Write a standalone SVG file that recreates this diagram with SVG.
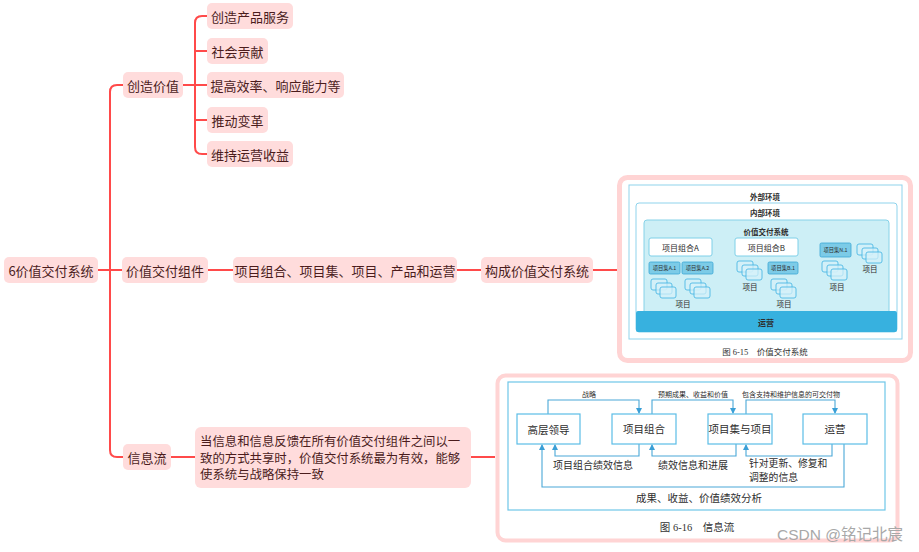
<svg xmlns="http://www.w3.org/2000/svg" width="919" height="552" viewBox="0 0 919 552">
<style>
.n{fill:#ffdcdc;}
.t{font-family:"Noto Sans CJK SC","Liberation Sans",sans-serif;font-size:13px;fill:#4b1c1c;text-anchor:middle;dominant-baseline:central;}
.tl{font-family:"Noto Sans CJK SC","Liberation Sans",sans-serif;font-size:12.4px;fill:#4b1c1c;dominant-baseline:central;}
.mm{fill:none;stroke:#ff4a4a;stroke-width:2;}
.fr{fill:#fff;stroke:#ffd4d4;stroke-width:5;}
.bf{fill:#fff;stroke:#8fd3ec;stroke-width:1;}
.ft{font-family:"Noto Sans CJK SC","Liberation Sans",sans-serif;fill:#2d2d2d;text-anchor:middle;dominant-baseline:central;}
.fs{font-family:"Noto Sans CJK SC","Liberation Sans",sans-serif;fill:#2d2d2d;dominant-baseline:central;}
.cap{font-family:"Liberation Serif","Noto Sans CJK SC",serif;fill:#333;text-anchor:middle;dominant-baseline:central;}
.pj{fill:#7ccbe7;stroke:#3aa7d6;stroke-width:0.8;}
.st{fill:#d6f1f9;fill-opacity:0.7;stroke:#4db8e4;stroke-width:0.9;}
.bx{fill:#fff;stroke:#5bbde6;stroke-width:1.2;}
.ar{fill:none;stroke:#4aa8d8;stroke-width:1.1;}
</style>
<defs>
<marker id="ah" markerWidth="6" markerHeight="6" refX="5" refY="3" orient="auto" markerUnits="userSpaceOnUse">
<path d="M0,0 L6,3 L0,6 Z" fill="#3a9fd6"/>
</marker>
<g id="stk">
<rect x="0" y="0" width="16" height="11" rx="2" class="st"/>
<rect x="5" y="4" width="16" height="11" rx="2" class="st"/>
<rect x="9" y="8" width="16" height="11" rx="2" class="st"/>
</g>
</defs>
<rect width="919" height="552" fill="#fff"/>

<g id="fig615">
<rect class="fr" x="619.5" y="177.5" width="291" height="183" rx="8"/>
<rect class="bf" x="629" y="185" width="273" height="154"/>
<text class="ft" x="765" y="196" font-size="7.5" font-weight="bold">外部环境</text>
<rect class="bf" x="636" y="203" width="261" height="129" rx="3"/>
<text class="ft" x="765" y="212" font-size="7.5" font-weight="bold">内部环境</text>
<rect x="644" y="220" width="245" height="95" rx="3" fill="#cdeff6" stroke="#86d2e8" stroke-width="1"/>
<text class="ft" x="766" y="231" font-size="7.5" font-weight="bold">价值交付系统</text>
<rect x="636" y="311" width="261" height="21" rx="2" fill="#37b1df"/>
<text class="ft" x="766" y="322" font-size="8" font-weight="bold" fill="#1d3550">运营</text>
<rect x="649" y="238" width="63" height="18" rx="2" fill="#fff" stroke="#7fd0e8" stroke-width="1"/>
<text class="ft" x="680.5" y="247" font-size="8">项目组合A</text>
<rect x="735" y="238" width="63" height="18" rx="2" fill="#fff" stroke="#7fd0e8" stroke-width="1"/>
<text class="ft" x="766.5" y="247" font-size="8">项目组合B</text>
<rect class="pj" x="649" y="262" width="31" height="12" rx="1.5"/>
<text class="ft" x="664.5" y="268" font-size="5.3">项目集A.1</text>
<rect class="pj" x="682" y="262" width="31" height="12" rx="1.5"/>
<text class="ft" x="697.5" y="268" font-size="5.3">项目集A.2</text>
<rect class="pj" x="768" y="262" width="30" height="12" rx="1.5"/>
<text class="ft" x="783" y="268" font-size="5.3">项目集B.1</text>
<rect class="pj" x="820" y="243" width="31" height="14" rx="1.5"/>
<text class="ft" x="835.5" y="250" font-size="5.3">项目集N.1</text>
<use href="#stk" x="651" y="279"/>
<use href="#stk" x="685" y="279"/>
<use href="#stk" x="737" y="261"/>
<use href="#stk" x="771" y="279"/>
<use href="#stk" x="822" y="261"/>
<use href="#stk" x="857" y="244"/>
<text class="ft" x="683" y="303" font-size="7.5">项目</text>
<text class="ft" x="750" y="286" font-size="7.5">项目</text>
<text class="ft" x="784" y="303" font-size="7.5">项目</text>
<text class="ft" x="837" y="286" font-size="7.5">项目</text>
<text class="ft" x="870" y="268" font-size="7.5">项目</text>
<text class="cap" x="765" y="352" font-size="8.5">图 6-15　价值交付系统</text>
</g>

<g id="fig616">
<rect class="fr" x="497.5" y="375.5" width="400" height="165" rx="8" style="stroke-width:4"/>
<rect class="bf" x="508" y="382" width="377" height="128" style="stroke:#6ec6e8;stroke-width:1.2"/>
<text class="cap" x="697" y="527" font-size="10.5">图 6-16　信息流</text>
</g>

<g id="connectors">
<path class="mm" d="M98,270 H122"/>
<path class="mm" d="M123,85 H117 Q110,85 110,92 V450 Q110,457 117,457 H123"/>
<path class="mm" d="M208,270 H233"/>
<path class="mm" d="M457,270 H481"/>
<path class="mm" d="M593,270 H617"/>
<path class="mm" d="M183,85 H207"/>
<path class="mm" d="M207,16 H202 Q195,16 195,23 V147 Q195,154 202,154 H207"/>
<path class="mm" d="M195,51 H207 M195,120 H207"/>
<path class="mm" d="M171,457 H195"/>
<path class="mm" d="M471,457 H495"/>
<path class="ar" d="M548,414 V400 H639 V413" marker-end="url(#ah)"/>
<path class="ar" d="M652,414 V400 H733 V413" marker-end="url(#ah)"/>
<path class="ar" d="M746,414 V400 H835 V413" marker-end="url(#ah)"/>
<path class="ar" d="M639,444 V456 H555 V445" marker-end="url(#ah)"/>
<path class="ar" d="M736,444 V456 H652 V445" marker-end="url(#ah)"/>
<path class="ar" d="M832,444 V456 H746 V445" marker-end="url(#ah)"/>
<path class="ar" d="M844,444 V487 H542 V445" marker-end="url(#ah)"/>
</g>

<g id="root"><rect class="n" x="4" y="257" width="94" height="26" rx="5"/><text class="t" x="51" y="270">6价值交付系统</text></g>
<g id="create"><rect class="n" x="123" y="72" width="60" height="26" rx="5"/><text class="t" x="153" y="85">创造价值</text></g>
<g id="c1"><rect class="n" x="207" y="3" width="86" height="26" rx="5"/><text class="t" x="250" y="16">创造产品服务</text></g>
<g id="c2"><rect class="n" x="207" y="38" width="61" height="26" rx="5"/><text class="t" x="237.5" y="51">社会贡献</text></g>
<g id="c3"><rect class="n" x="207" y="72" width="137" height="26" rx="5"/><text class="t" x="275.5" y="85">提高效率、响应能力等</text></g>
<g id="c4"><rect class="n" x="207" y="107" width="61" height="26" rx="5"/><text class="t" x="237.5" y="120">推动变革</text></g>
<g id="c5"><rect class="n" x="207" y="141" width="86" height="26" rx="5"/><text class="t" x="250" y="154">维持运营收益</text></g>
<g id="comp"><rect class="n" x="122" y="257" width="86" height="26" rx="5"/><text class="t" x="165" y="270">价值交付组件</text></g>
<g id="items"><rect class="n" x="233" y="257" width="224" height="26" rx="5"/><text class="t" x="345" y="270">项目组合、项目集、项目、产品和运营</text></g>
<g id="form"><rect class="n" x="481" y="257" width="112" height="26" rx="5"/><text class="t" x="537" y="270">构成价值交付系统</text></g>
<g id="info"><rect class="n" x="123" y="444" width="48" height="26" rx="5"/><text class="t" x="147" y="457">信息流</text></g>
<g id="infotext"><rect class="n" x="195" y="427" width="276" height="61" rx="6"/>
<text class="tl" x="200" y="441">当信息和信息反馈在所有价值交付组件之间以一</text>
<text class="tl" x="200" y="457.5">致的方式共享时，价值交付系统最为有效，能够</text>
<text class="tl" x="200" y="474">使系统与战略保持一致</text></g>

<g id="lead"><rect class="bx" x="517" y="414" width="63" height="30"/><text class="ft" x="548.5" y="429" font-size="10.5">高层领导</text></g>
<g id="pf"><rect class="bx" x="612" y="414" width="64" height="30"/><text class="ft" x="644" y="428" font-size="10.5">项目组合</text></g>
<g id="pg"><rect class="bx" x="708" y="414" width="64" height="30"/><text class="ft" x="740" y="428" font-size="10.5">项目集与项目</text></g>
<g id="ops"><rect class="bx" x="803" y="414" width="64" height="30"/><text class="ft" x="835" y="428" font-size="10.5">运营</text></g>
<g id="flowlabels">
<text class="ft" x="589" y="394" font-size="7">战略</text>
<text class="ft" x="693" y="394" font-size="7">预期成果、收益和价值</text>
<text class="ft" x="791" y="394" font-size="7">包含支持和维护信息的可交付物</text>
<text class="fs" x="553" y="464" font-size="10">项目组合绩效信息</text>
<text class="fs" x="658" y="464" font-size="10">绩效信息和进展</text>
<text class="fs" x="749" y="463" font-size="9.8">针对更新、修复和</text>
<text class="fs" x="749" y="477" font-size="9.8">调整的信息</text>
<text class="ft" x="699" y="497" font-size="10.5">成果、收益、价值绩效分析</text>
</g>
<text x="903" y="534" font-family="Liberation Sans,Noto Sans CJK SC,sans-serif" font-size="15.5" fill="#a8a8a8" text-anchor="end" dominant-baseline="central">CSDN @铭记北宸</text>
</svg>
